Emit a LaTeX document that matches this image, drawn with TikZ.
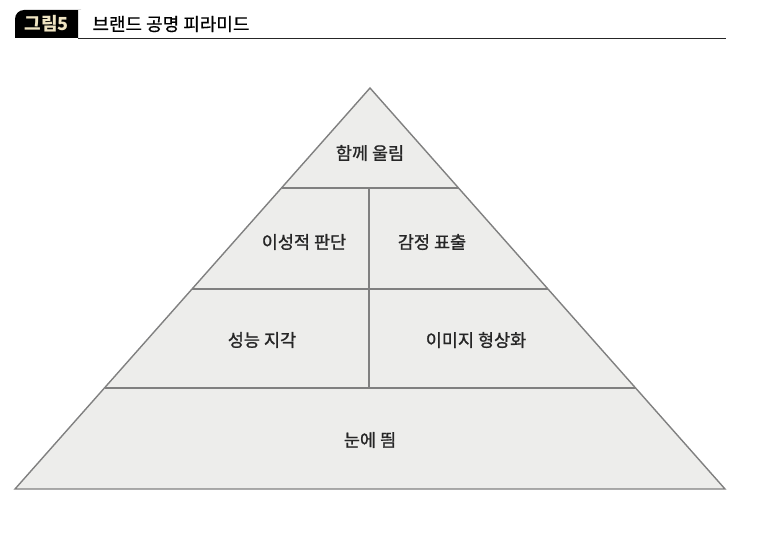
\documentclass[tikz,border=0pt]{standalone}
\usepackage{fontspec}
\setmainfont{Noto Sans CJK KR}
\newfontfamily\tierfont[FakeBold=1.1]{Noto Sans CJK KR}
\newfontfamily\headfont[FakeBold=0.6]{Noto Sans CJK KR}
\usepackage{xcolor}
\usetikzlibrary{positioning,calc}
\definecolor{tierfill}{HTML}{EDEDEB}
\definecolor{tierline}{HTML}{808080}
\definecolor{tagtext}{HTML}{EFE4C2}
\tikzset{
  tierlabel/.style={
    font=\tierfont\fontsize{17.5}{19}\selectfont,
    text=black!85,
    inner sep=2pt
  },
  tierline/.style={draw=tierline, line width=1.4pt},
  tagbox/.style={
    fill=black,
    text=tagtext,
    font=\fontsize{18}{20}\selectfont\bfseries,
    inner sep=0pt,
    minimum width=63pt,
    minimum height=28pt
  },
  titletext/.style={font=\headfont\fontsize{18}{20}\selectfont, anchor=west, inner sep=0pt}
}

\begin{document}
\begin{tikzpicture}[x=1pt, y=-1pt]
\useasboundingbox (0,0) rectangle (770,535);

% title bar
\fill[black, rounded corners=9pt] (15,38) -- (15,10) -- (72,10) [sharp corners] -- (78,10) -- (78,38) -- cycle;
\node[tagbox, fill=none] (tag) at (46.5,24) {그림5};
\node[titletext, right=14pt of tag] (title) {브랜드 공명 피라미드};
\draw[line width=1.5pt, black!85] (78,38.5) -- (726,38.5);

% pyramid corners
\coordinate (apex) at (370,88);
\coordinate (baseL) at (15,489);
\coordinate (baseR) at (725,489);
\coordinate (l1L) at (281.5,188);
\coordinate (l1R) at (458.5,188);
\coordinate (l2L) at (192,289);
\coordinate (l2R) at (548,289);
\coordinate (l3L) at (104.5,388);
\coordinate (l3R) at (635.5,388);

\fill[tierfill] (apex) -- (baseR) -- (baseL) -- cycle;
\draw[tierline] (l1L) -- (l1R);
\draw[tierline] (l2L) -- (l2R);
\draw[tierline] (l3L) -- (l3R);
\draw[tierline] (369,188) -- (369,388);
\draw[tierline, line join=miter] (apex) -- (baseR) -- (baseL) -- cycle;

% tiers
\node[tierlabel] (resonance) at (370,153) {함께 울림};
\node[tierlabel] (judgement) at (304,242) {이성적 판단};
\node[tierlabel] (feelings) at (432,242) {감정 표출};
\node[tierlabel] (performance) at (262,340) {성능 지각};
\node[tierlabel] (imagery) at (476,340) {이미지 형상화};
\node[tierlabel] (salience) at (370,440) {눈에 띔};
\end{tikzpicture}
\end{document}
